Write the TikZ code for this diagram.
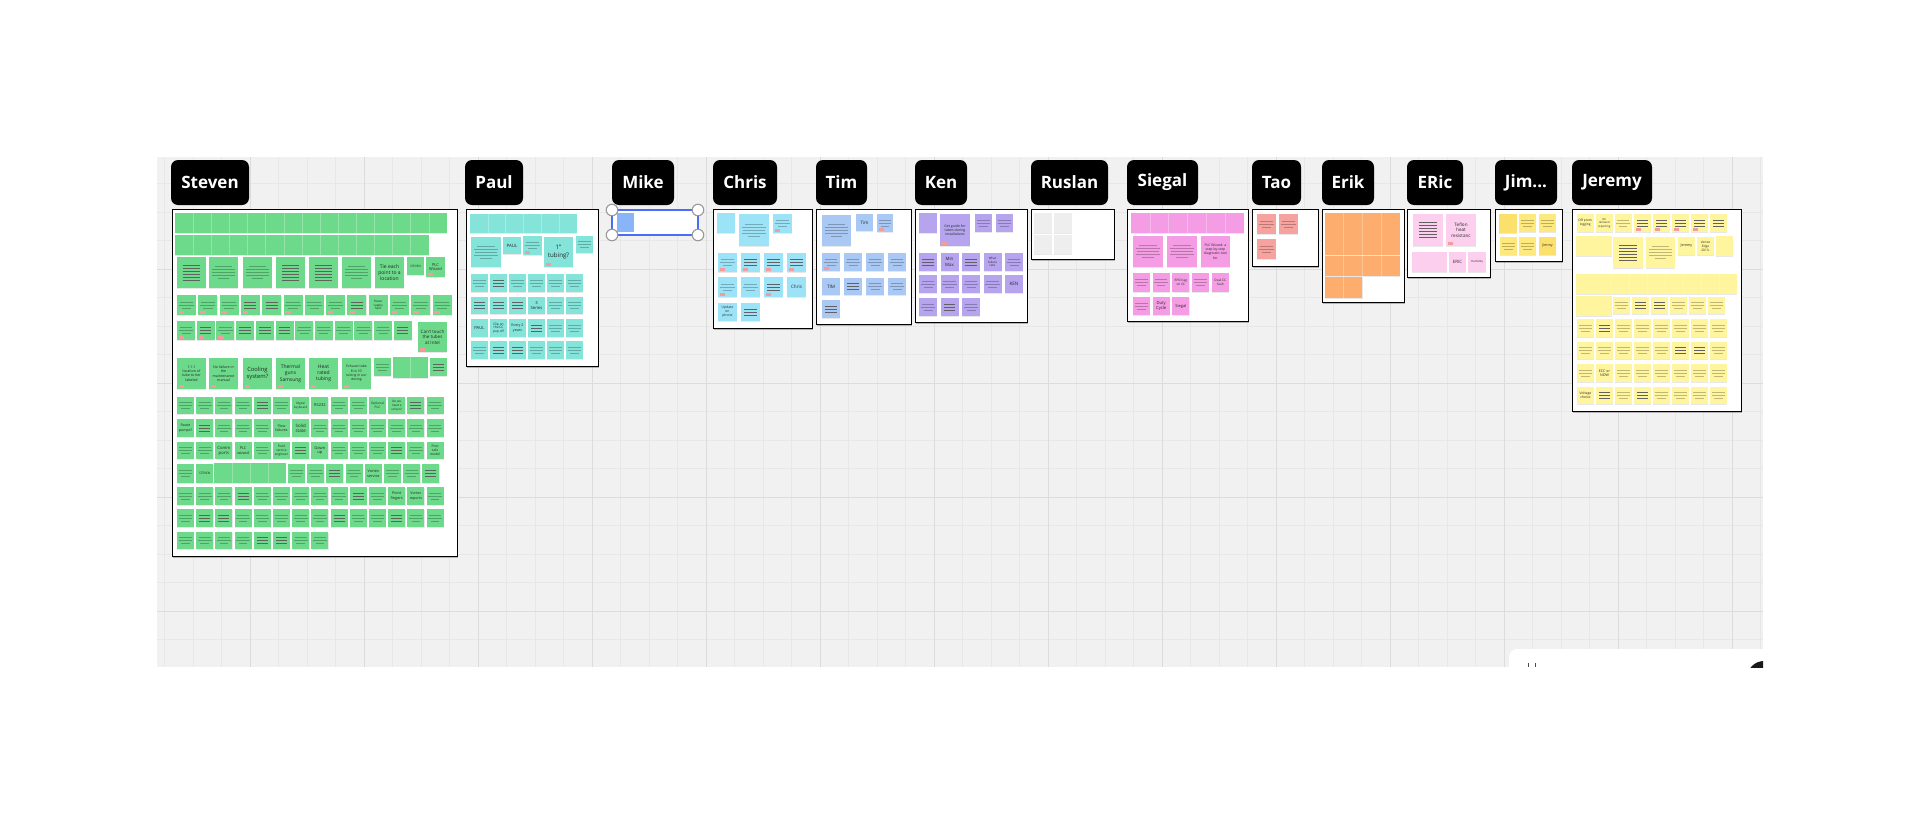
\documentclass[tikz,border=0pt]{standalone}
\usepackage{fontspec}
\setmainfont{Open Sans}
\usetikzlibrary{shadows}
\definecolor{bgc}{HTML}{F1F1F1}
\definecolor{gminc}{HTML}{E7E7E7}
\definecolor{gmajc}{HTML}{DCDCDC}
\definecolor{cG}{HTML}{6DD98B}
\definecolor{cP}{HTML}{84E4DA}
\definecolor{cC}{HTML}{9DE3F8}
\definecolor{cT}{HTML}{A9C8F4}
\definecolor{cK}{HTML}{B6A4EF}
\definecolor{cR}{HTML}{EEEEEE}
\definecolor{cS}{HTML}{F59DE4}
\definecolor{cA}{HTML}{F6A29F}
\definecolor{cE}{HTML}{FDAE6E}
\definecolor{cI}{HTML}{FDCFEF}
\definecolor{cJ}{HTML}{FCE06C}
\definecolor{cJb}{HTML}{FDE97E}
\definecolor{cY}{HTML}{FFF59E}
\definecolor{cTag}{HTML}{F49B9B}
\definecolor{cMike}{HTML}{8AB4F8}
\definecolor{cSel}{HTML}{4A6CF7}
\newcounter{nn}
\tikzset{
  stk/.style={anchor=north west,inner sep=0pt,outer sep=0pt,shape=rectangle},
  txt/.style={align=center,inner sep=0pt,text=black!85},
  bar/.style={draw=black!62,line width=0.75pt},
  smg/.style={draw=black,opacity=0.25,line width=0.7pt},
  gmin/.style={draw=gminc,line width=0.5pt},
  gmaj/.style={draw=gmajc,line width=0.9pt},
  lab/.style={fill=black,rounded corners=7pt,text=white,font=\bfseries\fontsize{17}{20}\selectfont,minimum height=45pt,inner sep=0pt},
  frm/.style={anchor=north west,draw=black,line width=1.3pt,fill=white,inner sep=0pt,
    drop shadow={shadow xshift=0pt,shadow yshift=-1.2pt,opacity=0.25,fill=black}},
  cellsep/.style={draw=white,opacity=0.28,line width=0.5pt},
}
% blank note
\newcommand{\nb}[5]{\fill[black,opacity=.09] (#1+.3,#2+.9) rectangle ++(#3,#4);
  \stepcounter{nn}\node[stk,fill=#5,minimum width=#3pt,minimum height=#4pt] (n\arabic{nn}) at (#1,#2) {};}
\newcommand{\nx}[5]{}
% small bars
\newcommand{\nl}[5]{\nb{#1}{#2}{#3}{#4}{#5}
  \foreach \o in {-3,0,3}{\draw[bar] (#1+0.18*#3,#2+0.5*#4+\o) -- ++(0.64*#3,0);}}
% big bars
\newcommand{\nL}[5]{\nb{#1}{#2}{#3}{#4}{#5}
  \foreach \o in {-7.5,-4.5,-1.5,1.5,4.5,7.5}{\draw[bar] (#1+0.2*#3,#2+0.5*#4+\o) -- ++(0.6*#3,0);}}
% small smudge text
\newcommand{\ns}[5]{\nb{#1}{#2}{#3}{#4}{#5}
  \draw[smg] (#1+0.14*#3,#2+0.5*#4-3) -- ++(0.72*#3,0);
  \draw[smg] (#1+0.1*#3,#2+0.5*#4) -- ++(0.8*#3,0);
  \draw[smg] (#1+0.25*#3,#2+0.5*#4+3) -- ++(0.5*#3,0);}
% big smudge text
\newcommand{\nS}[5]{\nb{#1}{#2}{#3}{#4}{#5}
  \draw[smg] (#1+0.2*#3,#2+0.5*#4-6) -- ++(0.6*#3,0);
  \draw[smg] (#1+0.1*#3,#2+0.5*#4-3) -- ++(0.8*#3,0);
  \draw[smg] (#1+0.12*#3,#2+0.5*#4) -- ++(0.76*#3,0);
  \draw[smg] (#1+0.1*#3,#2+0.5*#4+3) -- ++(0.8*#3,0);
  \draw[smg] (#1+0.3*#3,#2+0.5*#4+6) -- ++(0.4*#3,0);}
% text note
\newcommand{\nt}[8]{\nb{#1}{#2}{#3}{#4}{#5}
  \node[txt,font=\fontsize{#6}{#7}\selectfont] (t\arabic{nn}) at (#1+0.5*#3,#2+0.5*#4) {#8};}
% pink tag
\newcommand{\tg}[3]{\fill[cTag] (#1+1.8,#2+#3-3.6) rectangle ++(5.5,2.2);}
\newcommand{\lbl}[4]{\node[lab,minimum width=#3pt] (#1) at (#2,182.5) {#4};}

\begin{document}
\begin{tikzpicture}[x=1pt,y=-1pt]
\useasboundingbox (0,0) rectangle (1920,825);
\fill[white] (0,0) rectangle (1920,825);
% canvas and grid
\fill[bgc] (157,157) rectangle (1763,667);
\foreach \k in {0,...,56} {\draw[gmin] (164.5+28.5*\k,157) -- (164.5+28.5*\k,667);}
\foreach \k in {0,...,16} {\draw[gmin] (157,183.5+28.5*\k) -- (1763,183.5+28.5*\k);}
\foreach \m in {0,...,13} {\draw[gmaj] (250+114*\m,157) -- (250+114*\m,667);}
\foreach \yy in {269,383,497,611} {\draw[gmaj] (157,\yy) -- (1763,\yy);}
% bottom-right panel
\begin{scope}
\clip (157,157) rectangle (1763,667);
\fill[white,rounded corners=8pt] (1509,649) rectangle (1800,700);
\fill[black!90] (1764,678) circle (17);
\draw[black!70,line width=0.8pt] (1528,663) -- (1528,667) (1535,663) -- (1535,667);
\end{scope}

% labels
\lbl{lSteven}{210}{78}{Steven}
\lbl{lPaul}{494}{58}{Paul}
\lbl{lMike}{643}{62}{Mike}
\lbl{lChris}{745}{64}{Chris}
\lbl{lTim}{841.5}{51}{Tim}
\lbl{lKen}{941}{52}{Ken}
\lbl{lRuslan}{1069.5}{77}{Ruslan}
\lbl{lSiegal}{1162.5}{71}{Siegal}
\lbl{lTao}{1276.5}{49}{Tao}
\lbl{lErik}{1348}{52}{Erik}
\lbl{lERic}{1435}{56}{ERic}
\lbl{lJim}{1526}{62}{Jim...}
\lbl{lJeremy}{1612}{80}{Jeremy}

% frames
\node[frm,minimum width=285pt,minimum height=347pt] (fSteven) at (172,209) {};
\node[frm,minimum width=132pt,minimum height=157pt] (fPaul) at (466,209) {};
\node[frm,minimum width=99pt,minimum height=119pt] (fChris) at (713,209) {};
\node[frm,minimum width=95pt,minimum height=115pt] (fTim) at (816,209) {};
\node[frm,minimum width=112pt,minimum height=113pt] (fKen) at (915,209) {};
\node[frm,minimum width=83pt,minimum height=50pt] (fRuslan) at (1031,209) {};
\node[frm,minimum width=121pt,minimum height=112pt] (fSiegal) at (1127,209) {};
\node[frm,minimum width=66pt,minimum height=57pt] (fTao) at (1252,209) {};
\node[frm,minimum width=82pt,minimum height=93pt] (fErik) at (1322,209) {};
\node[frm,minimum width=83pt,minimum height=68pt] (fERic) at (1407,209) {};
\node[frm,minimum width=67pt,minimum height=52pt] (fJim) at (1495,209) {};
\node[frm,minimum width=169pt,minimum height=202pt] (fJeremy) at (1572,209) {};

% ================= STEVEN =================
\foreach \i in {0,...,14} {\nb{175+18.13*\i}{213}{18.13}{20}{cG}}
\foreach \i in {1,...,14} {\draw[cellsep] (175+18.13*\i,213) -- ++(0,20);}
\foreach \i in {0,...,13} {\nb{175+18.13*\i}{235}{18.13}{20}{cG}}
\foreach \i in {1,...,13} {\draw[cellsep] (175+18.13*\i,235) -- ++(0,20);}
% row 3
\nL{177}{257}{29}{31}{cG}
\nS{209}{257}{29}{31}{cG}
\nS{243}{257}{29}{31}{cG}
\nL{276}{257}{29}{31}{cG}
\nL{309}{257}{29}{31}{cG}
\nS{342}{257}{29}{31}{cG}
\nt{375}{257}{29}{31}{cG}{5}{6.2}{Tie each\\point to a\\location}
\nt{407}{257}{17}{18}{cG}{3}{3.6}{STEVEN}
\nt{426}{257}{19}{20}{cG}{4}{4.8}{PLC\\Wizard}
\tg{426}{257}{20}
% row 4
\foreach \t [count=\i from 0] in {s,s,s,l,l,s,s,s,l,x,s,s,s} {\csname n\t\endcsname{177+21.3*\i}{295}{19}{20}{cG}}
\nt{368.7}{295}{19}{20}{cG}{3}{3.6}{Power\\supply\\fault}
\foreach \i in {0,1,2,3,5,7,8,10,11,12} {\tg{177+21.3*\i}{295}{20}}
% row 5
\foreach \t [count=\i from 0] in {s,l,s,l,l,l,s,s,s,s,s,l} {\csname n\t\endcsname{177+19.7*\i}{321}{18}{19}{cG}}
\foreach \i in {0,1,2} {\tg{177+19.7*\i}{321}{19}}
\nt{418}{322}{29}{30}{cG}{4.5}{5.6}{Can't touch\\the tubes\\at Intel}
\tg{418}{322}{30}
% row 6
\nt{177}{358}{29}{31}{cG}{3.6}{4.4}{1-1-1\\location of\\tube to tier\\labeled}
\nt{209}{358}{29}{31}{cG}{3.6}{4.4}{No failure in\\the\\maintenance\\manual}
\nt{243}{358}{29}{31}{cG}{5.8}{7}{Cooling\\system?}
\nt{276}{358}{29}{31}{cG}{5}{6.2}{Thermal\\guns\\Samsung}
\nt{309}{358}{29}{31}{cG}{5}{6.2}{Heat\\rated\\tubing}
\nt{342}{358}{29}{31}{cG}{3.4}{4.3}{Exhaust tube\\8 to 10'\\tubing in our\\dosing}
\foreach \i in {177,209,243,276,309,342} {\tg{\i}{358}{31}}
\ns{374}{358}{17}{18}{cG}
\nb{393}{357}{17.5}{21}{cG}
\nb{410.5}{357}{17.5}{21}{cG}
\draw[cellsep] (410.5,357) -- ++(0,21);
\nl{430}{358}{17}{18}{cG}
% row 7
\foreach \t [count=\i from 0] in {s,s,s,s,l,s,x,x,s,s,x,x,l,s} {\csname n\t\endcsname{177+19.2*\i}{397}{17}{17}{cG}}
\nt{292.2}{397}{17}{17}{cG}{3}{3.6}{Digital\\keyboard}
\nt{311.4}{397}{17}{17}{cG}{4}{4.8}{RS232}
\nt{369}{397}{17}{17}{cG}{3.2}{3.8}{Optional\\PLC}
\nt{388.2}{397}{17}{17}{cG}{3}{3.6}{Do we\\need a\\screen?}
% row 8
\foreach \t [count=\i from 0] in {x,l,s,s,s,x,x,s,s,s,s,s,s,s} {\csname n\t\endcsname{177+19.2*\i}{419}{17}{18}{cG}}
\nt{177}{419}{17}{18}{cG}{3.6}{4.3}{Route\\pumps?}
\nt{273}{419}{17}{18}{cG}{3.6}{4.3}{Flow\\failures}
\nt{292.2}{419}{17}{18}{cG}{4.4}{5.2}{Solid\\state}
% row 9
\foreach \t [count=\i from 0] in {s,s,x,x,s,x,l,x,s,s,s,l,s,x} {\csname n\t\endcsname{177+19.2*\i}{442}{17}{17}{cG}}
\nt{215.4}{442}{17}{17}{cG}{4.2}{5}{Comm\\ports}
\nt{234.6}{442}{17}{17}{cG}{3.8}{4.6}{PLC\\wizard}
\nt{273}{442}{17}{17}{cG}{3.2}{3.8}{Field\\service\\engineer}
\nt{311.4}{442}{17}{17}{cG}{4}{4.8}{Gown\\up}
\nt{426.6}{442}{17}{17}{cG}{3.4}{4}{Post\\sale\\model}
% row 10
\ns{177}{464}{17}{19}{cG}
\nt{196.2}{464}{17}{19}{cG}{3.2}{3.8}{STEVEN}
\foreach \i in {0,...,3} {\nb{214+18*\i}{463}{18}{20}{cG}}
\foreach \i in {1,2,3} {\draw[cellsep] (214+18*\i,463) -- ++(0,20);}
\foreach \t [count=\i from 0] in {s,s,l,s,x,s,s,l} {\csname n\t\endcsname{288+19.2*\i}{464}{17}{19}{cG}}
\nt{364.8}{464}{17}{19}{cG}{3.8}{4.6}{Vortex\\service}
% row 11
\foreach \t [count=\i from 0] in {s,s,s,l,s,s,s,s,s,l,s,x,x,s} {\csname n\t\endcsname{177+19.2*\i}{487}{17}{18}{cG}}
\nt{388.2}{487}{17}{18}{cG}{3.8}{4.6}{Point\\fingers}
\nt{407.4}{487}{17}{18}{cG}{3.6}{4.4}{Vortex\\reports}
% row 12
\foreach \t [count=\i from 0] in {s,l,l,s,s,s,s,s,l,s,s,l,s,s} {\csname n\t\endcsname{177+19.2*\i}{509}{17}{18}{cG}}
% row 13
\foreach \t [count=\i from 0] in {s,s,s,s,l,l,s,s} {\csname n\t\endcsname{177+19.2*\i}{532}{17}{17}{cG}}

% ================= PAUL =================
\foreach \i in {0,...,5} {\nb{470+17.8*\i}{214}{17.8}{19}{cP}}
\foreach \i in {1,...,5} {\draw[cellsep] (470+17.8*\i,214) -- ++(0,19);}
\nS{471}{237}{30}{30}{cP}
\nt{503}{237}{18}{17}{cP}{4.4}{5.2}{PAUL}
\ns{523}{236}{19}{19}{cP}
\tg{523}{236}{19}
\nt{544}{237}{29}{30}{cP}{6.2}{7.6}{1"\\tubing?}
\tg{544}{237}{30}
\ns{576}{236}{17}{17}{cP}
\foreach \t [count=\i from 0] in {s,l,s,s,s,s} {\csname n\t\endcsname{471+19*\i}{274}{17}{18}{cP}}
\foreach \t [count=\i from 0] in {l,l,l,x,s,s} {\csname n\t\endcsname{471+19*\i}{297}{17}{17}{cP}}
\nt{528}{297}{17}{17}{cP}{4.2}{5}{3\\Series}
\foreach \t [count=\i from 0] in {x,x,x,l,s,s} {\csname n\t\endcsname{471+19*\i}{319}{17}{18}{cP}}
\nt{471}{319}{17}{18}{cP}{4.2}{5}{PAUL}
\nt{490}{319}{17}{18}{cP}{3.2}{3.8}{Clip on\\the CC\\pop off}
\nt{509}{319}{17}{18}{cP}{3.6}{4.3}{Every 2\\years}
\foreach \t [count=\i from 0] in {s,l,l,s,s,s} {\csname n\t\endcsname{471+19*\i}{341}{17}{18}{cP}}

% ================= MIKE =================
\node[stk,draw=cSel,line width=1.2pt,fill=white,minimum width=86pt,minimum height=25pt] (mSel) at (612,210) {};
\node[stk,fill=cMike,minimum width=17pt,minimum height=19pt] (mNote) at (617,213) {};
\foreach \p [count=\j] in {(612,210),(698,210),(612,235),(698,235)} {\node[circle,draw=black!40,line width=1.1pt,fill=white,minimum size=11.5pt,inner sep=0pt] (mh\j) at \p {};}

% ================= CHRIS =================
\nb{717}{213}{18}{20}{cC}
\nS{739}{214}{30}{32}{cC}
\ns{773}{214}{19}{19}{cC}
\tg{773}{214}{19}
\foreach \t [count=\i from 0] in {s,l,l,l} {\csname n\t\endcsname{718+23*\i}{253}{19}{19}{cC}}
\foreach \i in {0,...,3} {\tg{718+23*\i}{253}{19}}
\foreach \t [count=\i from 0] in {s,s,l,x} {\csname n\t\endcsname{718+23*\i}{277}{19}{20}{cC}}
\nt{787}{277}{19}{20}{cC}{4.6}{5.5}{Chris}
\tg{718}{277}{20}
\tg{764}{277}{20}
\nt{718}{303}{19}{18}{cC}{3.4}{4.1}{Update\\on\\phone}
\nl{741}{303}{19}{18}{cC}

% ================= TIM =================
\nS{822}{215}{29}{31}{cT}
\nt{856}{214}{17}{17}{cT}{4.6}{5.5}{Tim}
\ns{877}{214}{16}{18}{cT}
\tg{877}{214}{18}
\foreach \t [count=\i from 0] in {s,s,s,s} {\csname n\t\endcsname{822+22*\i}{253}{18}{18}{cT}}
\tg{822}{253}{18}
\foreach \t [count=\i from 0] in {x,l,s,s} {\csname n\t\endcsname{822+22*\i}{278}{18}{17}{cT}}
\nt{822}{278}{18}{17}{cT}{4.6}{5.5}{TIM}
\nl{822}{300}{18}{18}{cT}

% ================= KEN =================
\nb{919}{213}{18}{20}{cK}
\nt{940}{214}{30}{32}{cK}{3.5}{4.3}{Get guide for\\tubes during\\installations}
\tg{940}{214}{32}
\ns{975}{214}{17}{18}{cK}
\ns{996}{214}{17}{18}{cK}
\foreach \t [count=\i from 0] in {l,x,l,x,s} {\csname n\t\endcsname{919+21.5*\i}{253}{18}{18}{cK}}
\nt{940.5}{253}{18}{18}{cK}{4.4}{5.2}{Min\\Max}
\nt{983.5}{253}{18}{18}{cK}{3}{3.6}{What\\failure\\rate}
\foreach \t [count=\i from 0] in {s,s,s,s,x} {\csname n\t\endcsname{919+21.5*\i}{275}{18}{18}{cK}}
\nt{1005}{275}{18}{18}{cK}{4.6}{5.5}{KEN}
\foreach \t [count=\i from 0] in {s,l,s} {\csname n\t\endcsname{919+21.5*\i}{298}{18}{18}{cK}}

% ================= RUSLAN =================
\nb{1034}{213}{18}{20}{cR}
\nb{1054}{213}{18}{20}{cR}
\nb{1034}{235}{18}{19}{cR}
\nb{1054}{235}{18}{19}{cR}

% ================= SIEGAL =================
\foreach \i in {0,...,5} {\nb{1131+18.8*\i}{213}{18.8}{20}{cS}}
\foreach \i in {1,...,5} {\draw[cellsep] (1131+18.8*\i,213) -- ++(0,20);}
\nS{1133}{236}{30}{31}{cS}
\nS{1167}{236}{30}{31}{cS}
\nt{1201}{236}{29}{31}{cS}{3.4}{4.2}{PLC Wizard: a\\step-by-step\\diagnostic tool\\for}
\foreach \t [count=\i from 0] in {s,s,x,s,x} {\csname n\t\endcsname{1133+19.7*\i}{273}{17}{19}{cS}}
\nt{1172.4}{273}{17}{19}{cS}{3.2}{3.9}{RFID tag\\on CC}
\nt{1211.8}{273}{17}{19}{cS}{3.2}{3.9}{Dual CC\\fault}
\ns{1133}{297}{17}{18}{cS}
\nt{1152.7}{297}{17}{18}{cS}{4.2}{5}{Duty\\Cycle}
\nt{1172.4}{297}{17}{18}{cS}{4}{4.8}{Siegal}

% ================= TAO =================
\ns{1257}{214}{19}{20}{cA}
\ns{1279}{214}{19}{20}{cA}
\ns{1257}{239}{19}{20}{cA}

% ================= ERIK =================
\foreach \r in {0,1,2} {\foreach \i in {0,...,3} {\nb{1325+18.7*\i}{213+21.4*\r}{18.7}{20.5}{cE}}}
\foreach \i in {0,1} {\nb{1325+18.7*\i}{277.2}{18.7}{20.5}{cE}}
\foreach \i in {1,2,3} {\draw[cellsep] (1325+18.7*\i,213) -- ++(0,63.3);}
\draw[cellsep] (1343.7,277.2) -- ++(0,20.5);

% ================= ERIC =================
\nL{1413}{214}{30}{32}{cI}
\nt{1446}{214}{30}{32}{cI}{4.6}{5.6}{Teflon\\heat\\resistanc}
\tg{1446}{214}{32}
\nb{1412}{252}{17.5}{20}{cI}
\nb{1429.5}{252}{17.5}{20}{cI}
\nt{1449}{252}{17}{20}{cI}{4.4}{5.2}{ERIC}
\nt{1468}{252}{18}{20}{cI}{2.8}{3.4}{Humidity}

% ================= JIM =================
\nb{1499}{214}{18}{19}{cJ}
\ns{1519}{214}{17}{18}{cJb}
\ns{1539}{214}{17}{18}{cJb}
\ns{1500}{237}{17}{18}{cJb}
\ns{1519}{237}{17}{18}{cJb}
\nt{1539}{237}{17}{18}{cJ}{3.6}{4.3}{Jimmy}

% ================= JEREMY =================
\foreach \t [count=\i from 0] in {x,x,s,l,l,l,l,l} {\csname n\t\endcsname{1576.7+19*\i}{214}{17}{18}{cY}}
\nt{1576.7}{214}{17}{18}{cY}{3.2}{3.9}{Off prem\\logging}
\nt{1595.7}{214}{17}{18}{cY}{2.8}{3.4}{On\\demand\\reporting}
\foreach \i in {3,4,5,6} {\tg{1576.7+19*\i}{214}{18}}
\nb{1576}{236}{35.5}{20}{cY}
\nL{1613}{237}{30}{31}{cY}
\nS{1646}{237}{29}{31}{cY}
\nt{1678}{237}{17}{18}{cY}{3.6}{4.3}{Jeremy}
\nt{1697}{237}{17}{18}{cY}{3.2}{3.9}{Vertex\\Edge\\2013-}
\nb{1716}{236}{17}{20}{cY}
\nb{1576}{274}{35.7}{20}{cY}
\foreach \i in {0,...,6} {\nb{1611.7+17.9*\i}{274}{17.9}{20}{cY}}
\foreach \i in {0,...,6} {\draw[cellsep] (1611.7+17.9*\i,274) -- ++(0,20);}
\nb{1576}{296}{35.5}{20}{cY}
\foreach \t [count=\i from 0] in {s,l,l,s,s,s} {\csname n\t\endcsname{1613+19*\i}{297}{17}{17}{cY}}
\foreach \t [count=\i from 0] in {s,l,s,s,s,s,s,s} {\csname n\t\endcsname{1577+19*\i}{319}{17}{18}{cY}}
\foreach \t [count=\i from 0] in {s,s,s,s,s,l,l,s} {\csname n\t\endcsname{1577+19*\i}{342}{17}{17}{cY}}
\foreach \t [count=\i from 0] in {s,x,s,s,s,s,s,s} {\csname n\t\endcsname{1577+19*\i}{364}{17}{18}{cY}}
\nt{1596}{364}{17}{18}{cY}{3.6}{4.3}{ECC or\\NOW}
\foreach \t [count=\i from 0] in {x,l,s,l,s,s,s,s} {\csname n\t\endcsname{1577+19*\i}{387}{17}{17}{cY}}
\nt{1577}{387}{17}{17}{cY}{3.4}{4.1}{Voltage\\choice}
\end{tikzpicture}
\end{document}
